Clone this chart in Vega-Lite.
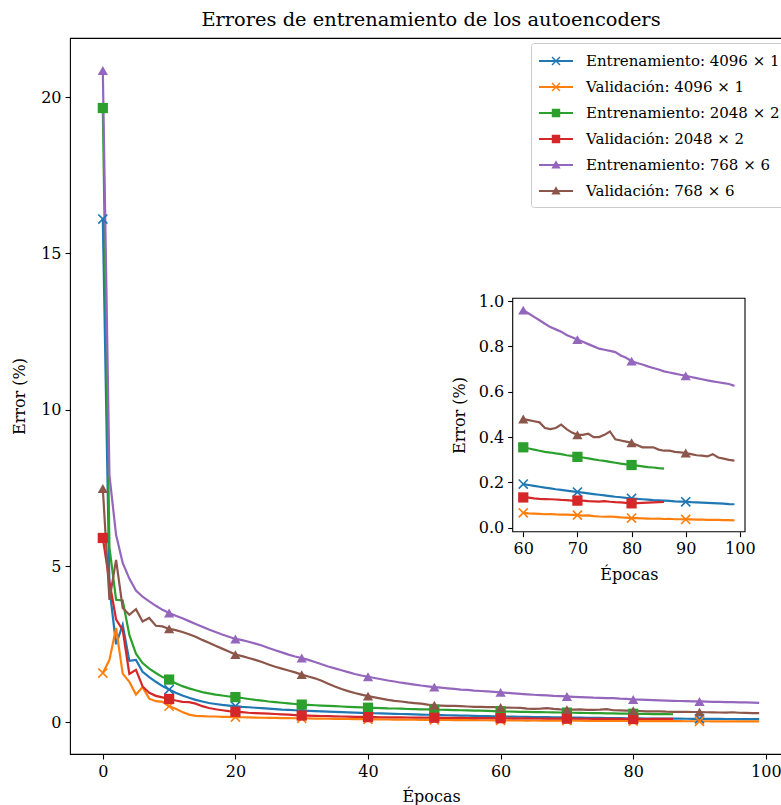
{
  "$schema": "https://vega.github.io/schema/vega-lite/v6.json",
  "width": 722,
  "height": 716,
  "autosize": {"type": "none"},
  "padding": {"left": 70, "top": 38, "right": 0, "bottom": 51},
  "background": "white",
  "config": {
    "font": "DejaVu Serif",
    "view": {"stroke": "#000000", "strokeWidth": 1.1},
    "axis": {
      "domain": false, "grid": false, "tickColor": "#000000", "tickSize": 5, "tickWidth": 1.1,
      "labelColor": "#000000", "labelFontSize": 16, "labelFont": "DejaVu Serif", "labelPadding": 4,
      "titleFont": "DejaVu Serif", "titleFontSize": 16, "titleFontWeight": "normal", "titleColor": "#000000"
    }
  },
  "title": {"text": "Errores de entrenamiento de los autoencoders", "fontSize": 19.4, "font": "DejaVu Serif", "fontWeight": "normal", "color": "#000000", "offset": 8, "anchor": "middle"},
  "datasets": {
    "d": [
      {"e":0,"t4096":16.1,"v4096":1.58,"t2048":19.65,"v2048":5.9,"t768":20.85,"v768":7.48},
      {"e":1,"t4096":4.3,"v4096":2.0,"t2048":5.6,"v2048":4.5,"t768":7.9,"v768":3.92},
      {"e":2,"t4096":2.5,"v4096":3.02,"t2048":3.92,"v2048":3.3,"t768":6.0,"v768":5.2},
      {"e":3,"t4096":3.12,"v4096":1.56,"t2048":3.9,"v2048":2.95,"t768":5.1,"v768":3.66},
      {"e":4,"t4096":1.97,"v4096":1.3,"t2048":2.8,"v2048":1.55,"t768":4.6,"v768":3.44},
      {"e":5,"t4096":2.0,"v4096":0.89,"t2048":2.2,"v2048":1.68,"t768":4.22,"v768":3.62},
      {"e":6,"t4096":1.62,"v4096":1.13,"t2048":1.9,"v2048":1.15,"t768":4.02,"v768":3.23},
      {"e":7,"t4096":1.45,"v4096":0.76,"t2048":1.72,"v2048":0.95,"t768":3.87,"v768":3.34},
      {"e":8,"t4096":1.3,"v4096":0.68,"t2048":1.58,"v2048":0.85,"t768":3.73,"v768":3.09},
      {"e":9,"t4096":1.16,"v4096":0.66,"t2048":1.45,"v2048":0.8,"t768":3.6,"v768":3.07},
      {"e":10,"t4096":1.05,"v4096":0.52,"t2048":1.37,"v2048":0.75,"t768":3.5,"v768":2.99},
      {"e":11,"t4096":0.95,"v4096":0.44,"t2048":1.25,"v2048":0.7,"t768":3.41,"v768":2.95},
      {"e":12,"t4096":0.86,"v4096":0.33,"t2048":1.16,"v2048":0.66,"t768":3.33,"v768":2.89},
      {"e":13,"t4096":0.79,"v4096":0.25,"t2048":1.09,"v2048":0.65,"t768":3.24,"v768":2.82},
      {"e":14,"t4096":0.72,"v4096":0.21,"t2048":1.03,"v2048":0.6,"t768":3.15,"v768":2.74},
      {"e":15,"t4096":0.67,"v4096":0.2,"t2048":0.97,"v2048":0.52,"t768":3.06,"v768":2.64},
      {"e":16,"t4096":0.62,"v4096":0.19,"t2048":0.93,"v2048":0.46,"t768":2.97,"v768":2.55},
      {"e":17,"t4096":0.59,"v4096":0.19,"t2048":0.89,"v2048":0.42,"t768":2.89,"v768":2.45},
      {"e":18,"t4096":0.56,"v4096":0.18,"t2048":0.86,"v2048":0.39,"t768":2.81,"v768":2.36},
      {"e":19,"t4096":0.54,"v4096":0.18,"t2048":0.83,"v2048":0.36,"t768":2.74,"v768":2.27},
      {"e":20,"t4096":0.52,"v4096":0.17,"t2048":0.81,"v2048":0.34,"t768":2.67,"v768":2.17},
      {"e":21,"t4096":0.5,"v4096":0.165,"t2048":0.78,"v2048":0.33,"t768":2.63,"v768":2.12},
      {"e":22,"t4096":0.485,"v4096":0.16,"t2048":0.75,"v2048":0.31,"t768":2.58,"v768":2.06},
      {"e":23,"t4096":0.47,"v4096":0.155,"t2048":0.72,"v2048":0.3,"t768":2.52,"v768":2.0},
      {"e":24,"t4096":0.455,"v4096":0.15,"t2048":0.7,"v2048":0.29,"t768":2.46,"v768":1.93},
      {"e":25,"t4096":0.44,"v4096":0.147,"t2048":0.67,"v2048":0.28,"t768":2.38,"v768":1.85},
      {"e":26,"t4096":0.425,"v4096":0.143,"t2048":0.65,"v2048":0.27,"t768":2.31,"v768":1.78},
      {"e":27,"t4096":0.41,"v4096":0.14,"t2048":0.63,"v2048":0.26,"t768":2.24,"v768":1.72},
      {"e":28,"t4096":0.4,"v4096":0.137,"t2048":0.61,"v2048":0.25,"t768":2.17,"v768":1.66},
      {"e":29,"t4096":0.39,"v4096":0.134,"t2048":0.59,"v2048":0.235,"t768":2.11,"v768":1.6},
      {"e":30,"t4096":0.38,"v4096":0.13,"t2048":0.57,"v2048":0.22,"t768":2.06,"v768":1.53},
      {"e":31,"t4096":0.37,"v4096":0.127,"t2048":0.56,"v2048":0.215,"t768":2.0,"v768":1.47},
      {"e":32,"t4096":0.36,"v4096":0.124,"t2048":0.55,"v2048":0.21,"t768":1.93,"v768":1.41},
      {"e":33,"t4096":0.352,"v4096":0.121,"t2048":0.54,"v2048":0.205,"t768":1.86,"v768":1.33},
      {"e":34,"t4096":0.344,"v4096":0.118,"t2048":0.53,"v2048":0.2,"t768":1.79,"v768":1.24},
      {"e":35,"t4096":0.336,"v4096":0.115,"t2048":0.52,"v2048":0.195,"t768":1.73,"v768":1.15},
      {"e":36,"t4096":0.328,"v4096":0.112,"t2048":0.51,"v2048":0.19,"t768":1.67,"v768":1.07},
      {"e":37,"t4096":0.32,"v4096":0.109,"t2048":0.5,"v2048":0.185,"t768":1.61,"v768":1.0},
      {"e":38,"t4096":0.313,"v4096":0.106,"t2048":0.49,"v2048":0.18,"t768":1.55,"v768":0.94},
      {"e":39,"t4096":0.306,"v4096":0.103,"t2048":0.48,"v2048":0.175,"t768":1.5,"v768":0.89},
      {"e":40,"t4096":0.3,"v4096":0.1,"t2048":0.47,"v2048":0.17,"t768":1.46,"v768":0.84},
      {"e":41,"t4096":0.294,"v4096":0.098,"t2048":0.465,"v2048":0.168,"t768":1.42,"v768":0.8},
      {"e":42,"t4096":0.288,"v4096":0.096,"t2048":0.46,"v2048":0.166,"t768":1.38,"v768":0.76},
      {"e":43,"t4096":0.282,"v4096":0.094,"t2048":0.45,"v2048":0.164,"t768":1.34,"v768":0.72},
      {"e":44,"t4096":0.276,"v4096":0.092,"t2048":0.445,"v2048":0.162,"t768":1.31,"v768":0.69},
      {"e":45,"t4096":0.27,"v4096":0.09,"t2048":0.44,"v2048":0.16,"t768":1.27,"v768":0.67},
      {"e":46,"t4096":0.264,"v4096":0.088,"t2048":0.43,"v2048":0.158,"t768":1.24,"v768":0.64},
      {"e":47,"t4096":0.258,"v4096":0.086,"t2048":0.425,"v2048":0.156,"t768":1.21,"v768":0.62},
      {"e":48,"t4096":0.252,"v4096":0.084,"t2048":0.42,"v2048":0.154,"t768":1.18,"v768":0.6},
      {"e":49,"t4096":0.246,"v4096":0.082,"t2048":0.415,"v2048":0.152,"t768":1.155,"v768":0.57},
      {"e":50,"t4096":0.24,"v4096":0.08,"t2048":0.41,"v2048":0.15,"t768":1.13,"v768":0.55},
      {"e":51,"t4096":0.235,"v4096":0.079,"t2048":0.405,"v2048":0.148,"t768":1.11,"v768":0.54},
      {"e":52,"t4096":0.23,"v4096":0.077,"t2048":0.4,"v2048":0.146,"t768":1.09,"v768":0.53},
      {"e":53,"t4096":0.225,"v4096":0.076,"t2048":0.395,"v2048":0.145,"t768":1.07,"v768":0.53},
      {"e":54,"t4096":0.22,"v4096":0.074,"t2048":0.39,"v2048":0.143,"t768":1.05,"v768":0.52},
      {"e":55,"t4096":0.215,"v4096":0.073,"t2048":0.385,"v2048":0.142,"t768":1.04,"v768":0.51},
      {"e":56,"t4096":0.21,"v4096":0.071,"t2048":0.38,"v2048":0.14,"t768":1.02,"v768":0.5},
      {"e":57,"t4096":0.206,"v4096":0.07,"t2048":0.375,"v2048":0.139,"t768":1.005,"v768":0.5},
      {"e":58,"t4096":0.202,"v4096":0.069,"t2048":0.37,"v2048":0.137,"t768":0.99,"v768":0.49},
      {"e":59,"t4096":0.197,"v4096":0.067,"t2048":0.362,"v2048":0.136,"t768":0.975,"v768":0.49},
      {"e":60,"t4096":0.193,"v4096":0.066,"t2048":0.355,"v2048":0.134,"t768":0.96,"v768":0.48},
      {"e":61,"t4096":0.189,"v4096":0.064,"t2048":0.35,"v2048":0.133,"t768":0.945,"v768":0.475},
      {"e":62,"t4096":0.185,"v4096":0.063,"t2048":0.345,"v2048":0.13,"t768":0.93,"v768":0.47},
      {"e":63,"t4096":0.181,"v4096":0.062,"t2048":0.34,"v2048":0.128,"t768":0.915,"v768":0.465},
      {"e":64,"t4096":0.177,"v4096":0.06,"t2048":0.335,"v2048":0.127,"t768":0.9,"v768":0.44},
      {"e":65,"t4096":0.174,"v4096":0.061,"t2048":0.332,"v2048":0.126,"t768":0.885,"v768":0.435},
      {"e":66,"t4096":0.17,"v4096":0.059,"t2048":0.328,"v2048":0.125,"t768":0.875,"v768":0.44},
      {"e":67,"t4096":0.167,"v4096":0.058,"t2048":0.325,"v2048":0.123,"t768":0.865,"v768":0.455},
      {"e":68,"t4096":0.164,"v4096":0.058,"t2048":0.32,"v2048":0.122,"t768":0.85,"v768":0.435},
      {"e":69,"t4096":0.161,"v4096":0.057,"t2048":0.317,"v2048":0.12,"t768":0.84,"v768":0.42},
      {"e":70,"t4096":0.158,"v4096":0.056,"t2048":0.313,"v2048":0.12,"t768":0.83,"v768":0.41},
      {"e":71,"t4096":0.155,"v4096":0.054,"t2048":0.31,"v2048":0.12,"t768":0.82,"v768":0.41},
      {"e":72,"t4096":0.152,"v4096":0.055,"t2048":0.306,"v2048":0.118,"t768":0.81,"v768":0.415},
      {"e":73,"t4096":0.149,"v4096":0.052,"t2048":0.302,"v2048":0.117,"t768":0.8,"v768":0.4},
      {"e":74,"t4096":0.146,"v4096":0.05,"t2048":0.298,"v2048":0.116,"t768":0.79,"v768":0.4},
      {"e":75,"t4096":0.143,"v4096":0.049,"t2048":0.295,"v2048":0.118,"t768":0.785,"v768":0.41},
      {"e":76,"t4096":0.14,"v4096":0.05,"t2048":0.291,"v2048":0.115,"t768":0.78,"v768":0.425},
      {"e":77,"t4096":0.137,"v4096":0.048,"t2048":0.287,"v2048":0.113,"t768":0.775,"v768":0.39},
      {"e":78,"t4096":0.135,"v4096":0.046,"t2048":0.283,"v2048":0.112,"t768":0.76,"v768":0.385},
      {"e":79,"t4096":0.132,"v4096":0.045,"t2048":0.28,"v2048":0.11,"t768":0.75,"v768":0.38},
      {"e":80,"t4096":0.13,"v4096":0.043,"t2048":0.277,"v2048":0.108,"t768":0.735,"v768":0.375},
      {"e":81,"t4096":0.128,"v4096":0.043,"t2048":0.274,"v2048":0.109,"t768":0.727,"v768":0.365},
      {"e":82,"t4096":0.126,"v4096":0.042,"t2048":0.271,"v2048":0.11,"t768":0.72,"v768":0.355},
      {"e":83,"t4096":0.124,"v4096":0.041,"t2048":0.268,"v2048":0.111,"t768":0.712,"v768":0.355},
      {"e":84,"t4096":0.122,"v4096":0.04,"t2048":0.266,"v2048":0.112,"t768":0.705,"v768":0.355},
      {"e":85,"t4096":0.121,"v4096":0.041,"t2048":0.263,"v2048":0.113,"t768":0.698,"v768":0.345},
      {"e":86,"t4096":0.12,"v4096":0.039,"t2048":0.261,"v2048":0.114,"t768":0.69,"v768":0.34},
      {"e":87,"t4096":0.119,"v4096":0.04,"t768":0.685,"v768":0.34},
      {"e":88,"t4096":0.117,"v4096":0.038,"t768":0.68,"v768":0.335},
      {"e":89,"t4096":0.116,"v4096":0.038,"t768":0.675,"v768":0.333},
      {"e":90,"t4096":0.115,"v4096":0.037,"t768":0.67,"v768":0.33},
      {"e":91,"t4096":0.113,"v4096":0.037,"t768":0.665,"v768":0.325},
      {"e":92,"t4096":0.112,"v4096":0.036,"t768":0.66,"v768":0.32},
      {"e":93,"t4096":0.111,"v4096":0.036,"t768":0.655,"v768":0.318},
      {"e":94,"t4096":0.11,"v4096":0.035,"t768":0.65,"v768":0.315},
      {"e":95,"t4096":0.109,"v4096":0.035,"t768":0.646,"v768":0.325},
      {"e":96,"t4096":0.108,"v4096":0.035,"t768":0.642,"v768":0.31},
      {"e":97,"t4096":0.107,"v4096":0.034,"t768":0.638,"v768":0.305},
      {"e":98,"t4096":0.105,"v4096":0.034,"t768":0.634,"v768":0.3},
      {"e":99,"t4096":0.104,"v4096":0.033,"t768":0.626,"v768":0.296}
    ],
    "frame": [{"x0": 58.05, "x1": 100.95, "y0": -0.017, "y1": 1.012}]
  },
  "layer": [
    {
      "data": {"name": "d"},
      "transform": [
        {"fold": ["t4096", "v4096", "t2048", "v2048", "t768", "v768"], "as": ["serie", "err"]},
        {"filter": "isValid(datum.err)"}
      ],
      "encoding": {
        "x": {"field": "e", "type": "quantitative", "scale": {"domain": [-4.95, 103.95], "nice": false, "zero": false}, "axis": {"values": [0, 20, 40, 60, 80, 100], "title": "Épocas", "titlePadding": 9}},
        "y": {"field": "err", "type": "quantitative", "scale": {"domain": [-1.01, 21.89], "nice": false, "zero": false}, "axis": {"values": [0, 5, 10, 15, 20], "title": "Error (%)", "titlePadding": 13}}
      },
      "layer": [
        {
          "mark": {"type": "line", "strokeWidth": 2.2},
          "encoding": {
            "stroke": {
              "field": "serie", "type": "nominal",
              "scale": {"domain": ["v768", "t768", "v2048", "t2048", "v4096", "t4096"], "range": ["#8c564b", "#9467bd", "#d62728", "#2ca02c", "#ff7f0e", "#1f77b4"]},
              "legend": null
            }
          }
        },
        {
          "transform": [{"filter": "datum.e % 10 == 0 && indexof(datum.serie, '4096') >= 0"}],
          "mark": {"type": "point", "filled": true, "size": 105, "opacity": 1, "shape": "M-0.774,-1L-1,-0.774L-0.226,0L-1,0.774L-0.774,1L0,0.226L0.774,1L1,0.774L0.226,0L1,-0.774L0.774,-1L0,-0.226Z"},
          "encoding": {
            "fill": {"field": "serie", "type": "nominal", "scale": {"domain": ["v768", "t768", "v2048", "t2048", "v4096", "t4096"], "range": ["#8c564b", "#9467bd", "#d62728", "#2ca02c", "#ff7f0e", "#1f77b4"]}, "legend": null}
          }
        },
        {
          "transform": [{"filter": "datum.e % 10 == 0 && indexof(datum.serie, '2048') >= 0"}],
          "mark": {"type": "point", "filled": true, "size": 105, "opacity": 1, "shape": "square"},
          "encoding": {"fill": {"field": "serie", "type": "nominal", "legend": null}}
        },
        {
          "transform": [{"filter": "datum.e % 10 == 0 && indexof(datum.serie, '768') >= 0"}],
          "mark": {"type": "point", "filled": true, "size": 105, "opacity": 1, "shape": "triangle-up"},
          "encoding": {"fill": {"field": "serie", "type": "nominal", "legend": null}}
        },
        {
          "transform": [{"filter": "datum.e == 0"}],
          "mark": {"type": "point", "filled": true, "size": 0, "opacity": 1},
          "encoding": {
            "color": {
              "field": "serie", "type": "nominal",
              "scale": {"domain": ["t4096", "v4096", "t2048", "v2048", "t768", "v768"], "range": ["#1f77b4", "#ff7f0e", "#2ca02c", "#d62728", "#9467bd", "#8c564b"]},
              "legend": {
                "orient": "none", "legendX": 461, "legendY": 5, "title": null,
                "symbolSize": 400, "symbolOpacity": 1, "symbolStrokeWidth": 0,
                "labelOffset": 27, "rowPadding": 8, "padding": 8, "labelLimit": 320,
                "labelFontSize": 15, "labelFont": "DejaVu Serif", "labelColor": "#000000",
                "strokeColor": "#cccccc", "fillColor": "white", "cornerRadius": 3,
                "labelExpr": "datum.value == 't4096' ? 'Entrenamiento: 4096 × 1' : datum.value == 'v4096' ? 'Validación: 4096 × 1' : datum.value == 't2048' ? 'Entrenamiento: 2048 × 2' : datum.value == 'v2048' ? 'Validación: 2048 × 2' : datum.value == 't768' ? 'Entrenamiento: 768 × 6' : 'Validación: 768 × 6'"
              }
            },
            "shape": {"field": "serie", "type": "nominal", "scale": {"domain": ["t4096", "v4096", "t2048", "v2048", "t768", "v768"], "range": [
              "M-1,-0.1V0.1H2.4V-0.1ZM0.352,-0.45L0.25,-0.348L0.598,0L0.25,0.348L0.352,0.45L0.7,0.102L1.048,0.45L1.15,0.348L0.802,0L1.15,-0.348L1.048,-0.45L0.7,-0.102Z",
              "M-1,-0.1V0.1H2.4V-0.1ZM0.352,-0.45L0.25,-0.348L0.598,0L0.25,0.348L0.352,0.45L0.7,0.102L1.048,0.45L1.15,0.348L0.802,0L1.15,-0.348L1.048,-0.45L0.7,-0.102Z",
              "M-1,-0.1V0.1H2.4V-0.1ZM0.28,-0.42V0.42H1.12V-0.42Z",
              "M-1,-0.1V0.1H2.4V-0.1ZM0.28,-0.42V0.42H1.12V-0.42Z",
              "M-1,-0.1V0.1H2.4V-0.1ZM0.7,-0.48L0.24,0.36H1.16Z",
              "M-1,-0.1V0.1H2.4V-0.1ZM0.7,-0.48L0.24,0.36H1.16Z"
            ]}}
          }
        }
      ]
    },
    {
      "encoding": {
        "x": {"field": "e", "type": "quantitative", "scale": {"domain": [58.05, 100.95], "range": [442.7, 675], "nice": false, "zero": false}, "axis": {"orient": "bottom", "offset": -222.3, "values": [60, 70, 80, 90, 100], "title": "Épocas", "titlePadding": 10}},
        "y": {"field": "err", "type": "quantitative", "scale": {"domain": [-0.017, 1.012], "range": [493.7, 260.3], "nice": false, "zero": false}, "axis": {"orient": "left", "offset": -442.7, "values": [0, 0.2, 0.4, 0.6, 0.8, 1.0], "format": ".1f", "title": "Error (%)", "titlePadding": 11}}
      },
      "layer": [
        {
          "data": {"name": "frame"},
          "mark": {"type": "rect", "fill": "white", "stroke": "#000000", "strokeWidth": 1.1},
          "encoding": {
            "x": {"field": "x0", "type": "quantitative"},
            "x2": {"field": "x1"},
            "y": {"field": "y0", "type": "quantitative"},
            "y2": {"field": "y1"}
          }
        },
        {
          "data": {"name": "d"},
          "transform": [
            {"filter": "datum.e >= 60"},
            {"fold": ["t4096", "v4096", "t2048", "v2048", "t768", "v768"], "as": ["serie", "err"]},
            {"filter": "isValid(datum.err)"}
          ],
          "layer": [
            {
              "mark": {"type": "line", "strokeWidth": 2.2},
              "encoding": {"stroke": {"field": "serie", "type": "nominal", "legend": null}}
            },
            {
              "transform": [{"filter": "datum.e % 10 == 0 && indexof(datum.serie, '4096') >= 0"}],
              "mark": {"type": "point", "filled": true, "size": 105, "opacity": 1, "shape": "M-0.774,-1L-1,-0.774L-0.226,0L-1,0.774L-0.774,1L0,0.226L0.774,1L1,0.774L0.226,0L1,-0.774L0.774,-1L0,-0.226Z"},
              "encoding": {"fill": {"field": "serie", "type": "nominal", "legend": null}}
            },
            {
              "transform": [{"filter": "datum.e % 10 == 0 && indexof(datum.serie, '2048') >= 0"}],
              "mark": {"type": "point", "filled": true, "size": 105, "opacity": 1, "shape": "square"},
              "encoding": {"fill": {"field": "serie", "type": "nominal", "legend": null}}
            },
            {
              "transform": [{"filter": "datum.e % 10 == 0 && indexof(datum.serie, '768') >= 0"}],
              "mark": {"type": "point", "filled": true, "size": 105, "opacity": 1, "shape": "triangle-up"},
              "encoding": {"fill": {"field": "serie", "type": "nominal", "legend": null}}
            }
          ]
        }
      ]
    }
  ],
  "resolve": {"scale": {"x": "independent", "y": "independent"}}
}
